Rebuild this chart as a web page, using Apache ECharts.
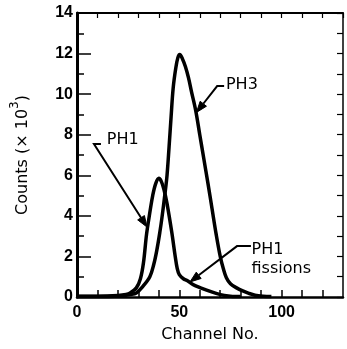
<!DOCTYPE html>
<html><head><meta charset="utf-8">
<script src="https://cdn.jsdelivr.net/npm/echarts@6/dist/echarts.min.js"></script>
<style>html,body{margin:0;padding:0;background:#fff}#c{width:347px;height:349px}</style>
</head><body><div id="c"></div>
<script>
// ---- data ----
const ph1Channel = [0, 10, 20, 24, 26, 29, 31, 32.5, 34, 35.5, 37, 38.5, 40, 41.2, 42.5, 44, 46.3, 48, 49, 50, 52, 54, 57, 63, 68, 72, 76, 80];
const ph1Count   = [0.04, 0.04, 0.07, 0.12, 0.2, 0.45, 0.9, 1.7, 3.1, 4.1, 5.0, 5.6, 5.85, 5.7, 5.3, 4.6, 3.2, 2.0, 1.4, 1.1, 0.9, 0.8, 0.6, 0.35, 0.18, 0.08, 0.03, 0.02];
const ph3Channel = [0, 15, 22, 26, 29, 32, 35.6, 37.5, 39, 40.5, 41.5, 43, 44, 45, 46, 47, 48.3, 49.3, 50.2, 51.5, 53, 54.5, 56, 58, 60, 62, 64, 66, 68, 70, 71.5, 73, 75, 78, 81, 84, 87, 91, 95];
const ph3Count   = [0.03, 0.03, 0.06, 0.12, 0.2, 0.5, 1.0, 1.6, 2.3, 3.2, 3.9, 5.1, 6.0, 7.4, 8.9, 10.3, 11.3, 11.8, 11.95, 11.75, 11.35, 10.8, 10.1, 9.2, 8.0, 6.8, 5.6, 4.35, 3.1, 2.0, 1.4, 0.95, 0.65, 0.45, 0.3, 0.18, 0.09, 0.04, 0.02];
const xTickLabels = [0, 50, 100];
const yTickLabels = [0, 2, 4, 6, 8, 10, 12, 14];

// annotation anchors in data coordinates (channel, counts)
const notes = [
  {lines: ['PH1'], textAt: [14.6, 7.73], leader: [[11.7, 7.54], [8.3, 7.54], [34.2, 3.45]]},
  {lines: ['PH3'], textAt: [72.8, 10.45], leader: [[71.9, 10.4], [68.5, 10.4], [58.4, 9.1]]},
  {lines: ['PH1', 'fissions'], textAt: [85.3, 2.32], leader: [[85.0, 2.51], [78.2, 2.51], [55.2, 0.74]]}
];

const chart = echarts.init(document.getElementById('c'), null, {renderer: 'canvas'});
const zip = (a, b) => a.map((v, i) => [v, b[i]]);
const tickFont = {fontFamily: 'Liberation Sans', fontWeight: 'bold', fontSize: 16, color: '#000'};

chart.setOption({
  animation: false,
  backgroundColor: '#fff',
  grid: {left: 77, right: 4, top: 13, bottom: 52, containLabel: false},
  xAxis: [{
    type: 'value', min: 0, max: 130, interval: 10, position: 'bottom',
    axisLine: {show: true, onZero: false, lineStyle: {color: '#000', width: 2.5}},
    axisTick: {show: true, inside: true, length: 7, lineStyle: {color: '#000', width: 1.5}},
    axisLabel: Object.assign({margin: 8, showMaxLabel: false,
      formatter: v => xTickLabels.indexOf(v) >= 0 ? String(v) : ''}, tickFont),
    splitLine: {show: false},
    name: 'Channel No.', nameLocation: 'middle', nameGap: 30,
    nameTextStyle: {fontFamily: 'DejaVu Sans', fontSize: 16, color: '#000'}
  }, {
    type: 'value', min: 0, max: 130, interval: 10, position: 'top',
    axisLine: {show: true, onZero: false, lineStyle: {color: '#000', width: 2}},
    axisTick: {show: true, inside: true, length: 5, lineStyle: {color: '#000', width: 1.2}},
    axisLabel: {show: false}, splitLine: {show: false}
  }],
  yAxis: [{
    type: 'value', min: 0, max: 14, interval: 2, position: 'left',
    axisLine: {show: true, onZero: false, lineStyle: {color: '#000', width: 3}},
    axisTick: {show: true, inside: true, length: 14, lineStyle: {color: '#000', width: 1.5}},
    minorTick: {show: true, splitNumber: 2, length: 7, lineStyle: {color: '#000', width: 1.5}},
    axisLabel: Object.assign({margin: 4,
      formatter: v => yTickLabels.indexOf(v) >= 0 ? String(v) : ''}, tickFont),
    splitLine: {show: false}, minorSplitLine: {show: false},
    name: '{a|Counts (× 10}{b|3}{a|)}', nameLocation: 'middle', nameGap: 46,
    nameTextStyle: {
      rich: {
        a: {fontFamily: 'DejaVu Sans', fontSize: 16, color: '#000', lineHeight: 22, verticalAlign: 'bottom'},
        b: {fontFamily: 'DejaVu Sans', fontSize: 12, color: '#000', lineHeight: 22, verticalAlign: 'top'}
      }
    }
  }, {
    type: 'value', min: 0, max: 14, interval: 1, position: 'right',
    axisLine: {show: true, onZero: false, lineStyle: {color: '#000', width: 1.5}},
    axisTick: {show: true, inside: true, length: 6, lineStyle: {color: '#000', width: 1.2}},
    axisLabel: {show: false}, splitLine: {show: false}
  }],
  series: [{
    name: 'PH1', type: 'line', xAxisIndex: 0, yAxisIndex: 0,
    data: zip(ph1Channel, ph1Count), showSymbol: false, symbol: 'none', smooth: 0.35,
    lineStyle: {color: '#000', width: 3.5}, z: 3
  }, {
    name: 'PH3', type: 'line', xAxisIndex: 0, yAxisIndex: 0,
    data: zip(ph3Channel, ph3Count), showSymbol: false, symbol: 'none', smooth: 0.35,
    lineStyle: {color: '#000', width: 3.5}, z: 3
  }]
});

// annotations positioned through the chart's own coordinate system
const px = p => chart.convertToPixel({xAxisIndex: 0, yAxisIndex: 0}, p);
const g = [];
notes.forEach(n => {
  const t = px(n.textAt);
  n.lines.forEach((s, i) => {
    g.push({type: 'text', x: t[0], y: t[1] + i * 19,
      style: {text: s, fontFamily: 'DejaVu Sans', fontSize: 16, fill: '#000', align: 'left', verticalAlign: 'middle'}, z: 10});
  });
  const pts = n.leader.map(px);
  const tip = pts[pts.length - 1], prev = pts[pts.length - 2];
  const dx = tip[0] - prev[0], dy = tip[1] - prev[1], L = Math.hypot(dx, dy);
  const ux = dx / L, uy = dy / L, hl = 11, hw = 4;
  const base = [tip[0] - ux * hl, tip[1] - uy * hl];
  const linePts = pts.slice(0, -1).concat([base]);
  g.push({type: 'polyline', shape: {points: linePts}, style: {stroke: '#000', lineWidth: 2, fill: null}, z: 10});
  g.push({type: 'polygon', shape: {points: [tip, [base[0] - uy * hw, base[1] + ux * hw], [base[0] + uy * hw, base[1] - ux * hw]]},
    style: {fill: '#000', stroke: '#000', lineWidth: 1}, z: 10});
});
chart.setOption({graphic: g});
</script>
</body></html>
